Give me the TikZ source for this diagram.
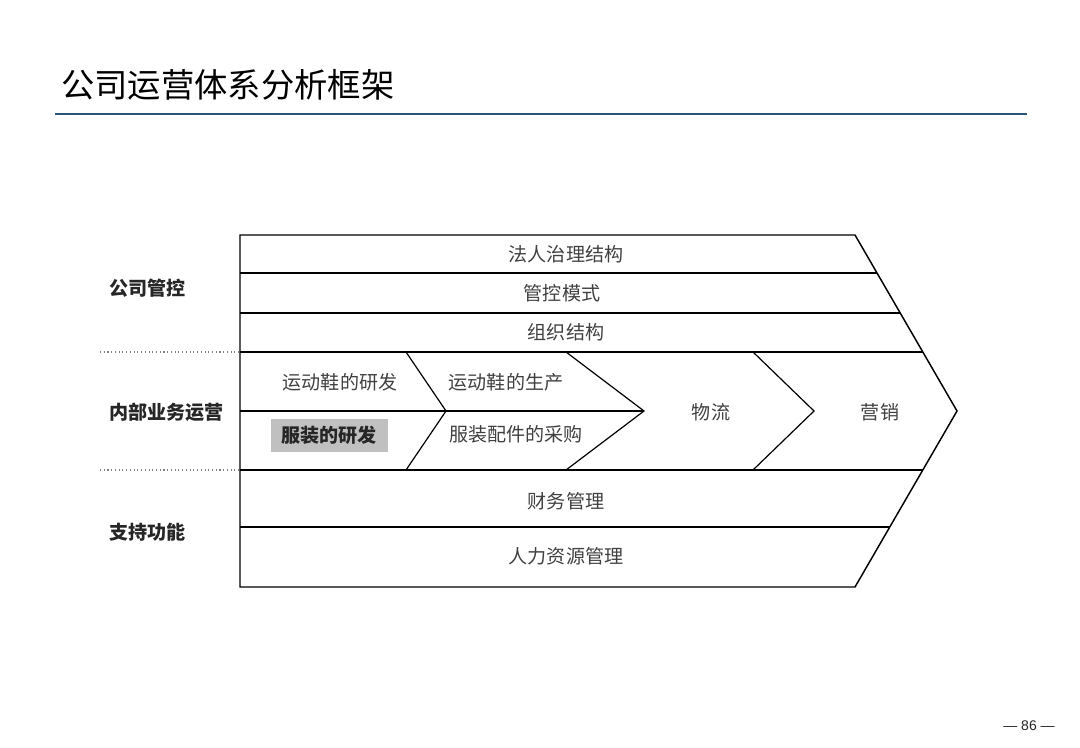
\documentclass[tikz,border=0pt]{standalone}
\usepackage{fontspec}
\setmainfont{Liberation Sans}
\newfontfamily\cjk{Noto Sans CJK SC}
\definecolor{titleblue}{RGB}{46,84,120}
\definecolor{bodygray}{RGB}{64,64,64}
\definecolor{boxgray}{RGB}{192,192,192}
\begin{document}
\begin{tikzpicture}[x=0.75pt,y=-0.75pt,
  outline/.style={draw=black,line width=1.1pt,line join=miter},
  sep/.style={draw=black,line width=0.9pt},
  dotsep/.style={draw=gray,line width=0.8pt,dotted},
  bodytxt/.style={font=\cjk\fontsize{14.3}{16}\selectfont,text=bodygray,inner sep=0pt},
  sidetxt/.style={font=\cjk\bfseries\fontsize{14.3}{16}\selectfont,text=black!85,inner sep=0pt,anchor=west},
  hl/.style={fill=boxgray,font=\cjk\bfseries\fontsize{14.3}{16}\selectfont,text=black!85,inner sep=0pt,minimum width=117*0.75pt,minimum height=33*0.75pt}
]
\useasboundingbox (0,0) rectangle (1080,748);
% title
\node[font=\cjk\fontsize{25}{28}\selectfont,text=black,anchor=west,inner sep=0pt] (title) at (61,85) {公司运营体系分析框架};
\draw[titleblue,line width=1.1pt] (55,114) -- (1027,114);
% coordinates of outer shape
\coordinate (tl) at (240,235);
\coordinate (tr) at (855,235);
\coordinate (apex) at (957,411);
\coordinate (br) at (855,587);
\coordinate (bl) at (240,587);
% row separators
\draw[sep] (240,273) -- (877,273);
\draw[sep] (240,313) -- (900,313);
\draw[sep] (240,352) -- (923,352);
\draw[sep] (240,470) -- (923,470);
\draw[sep] (240,527) -- (890,527);
\draw[sep] (240,411) -- (644,411);
% chevrons
\draw[sep] (406,352) -- (446,411) -- (406,470);
\draw[sep] (566,352) -- (644,411) -- (566,470);
\draw[sep] (753,352) -- (814,411) -- (753,470);
% dotted separators
\draw[dotsep] (100,352) -- (240,352);
\draw[dotsep] (100,470) -- (240,470);
% outer shape
\draw[outline] (tl) -- (tr) -- (apex) -- (br) -- (bl) -- cycle;
% row texts
\node[bodytxt] (r1) at (566,254) {法人治理结构};
\node[bodytxt] (r2) at (562,293) {管控模式};
\node[bodytxt] (r3) at (566,332) {组织结构};
\node[bodytxt] (s1) at (340,382) {运动鞋的研发};
\node[bodytxt] (s2) at (506,382) {运动鞋的生产};
\node[hl] (s3) at (329,435) {服装的研发};
\node[bodytxt] (s4) at (516,434) {服装配件的采购};
\node[bodytxt] (s5) at (711,412) {物流};
\node[bodytxt] (s6) at (880,412) {营销};
\node[bodytxt] (f1) at (566,501) {财务管理};
\node[bodytxt] (f2) at (566,556) {人力资源管理};
% side labels
\node[sidetxt] (l1) at (109,288) {公司管控};
\node[sidetxt] (l2) at (109,412) {内部业务运营};
\node[sidetxt] (l3) at (109,532) {支持功能};
% page number
\node[font=\fontsize{10.5}{12}\selectfont,text=black!85,inner sep=0pt] (pg) at (1029,726) {— 86 —};
\end{tikzpicture}
\end{document}
